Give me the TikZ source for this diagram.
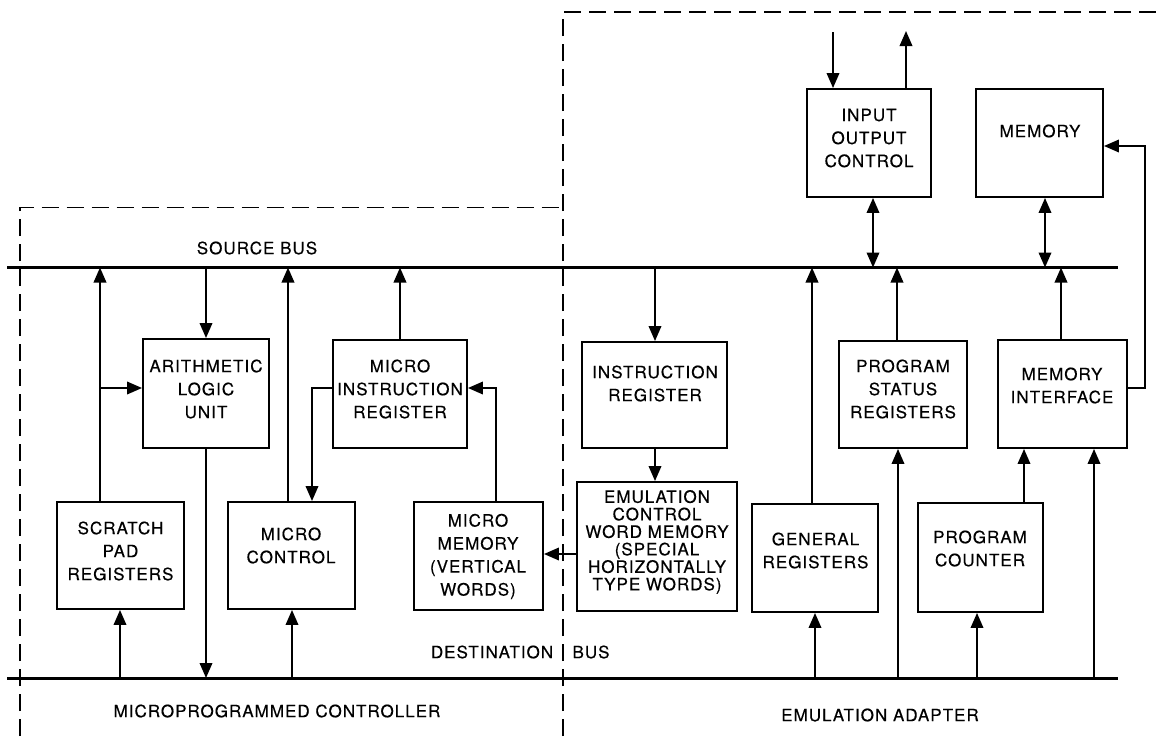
\documentclass[tikz,border=0pt]{standalone}
\usepackage{fontspec}
\setmainfont{TeX Gyre Heros}[LetterSpace=6,FakeBold=0.4]
\usetikzlibrary{arrows.meta,calc}
\begin{document}
\begin{tikzpicture}[x=1pt,y=-1pt,
  box/.style={draw, line width=1.9pt, inner sep=0pt},
  lbl/.style={font=\fontsize{17}{23}\selectfont, align=center, inner sep=0pt},
  tight/.style={font=\fontsize{17}{17.5}\selectfont},
  bus/.style={line width=3pt},
  conn/.style={line width=2pt},
  arr/.style={conn, -{Triangle[length=15pt,width=12.5pt]}},
  barr/.style={conn, {Triangle[length=15pt,width=12.5pt]}-{Triangle[length=15pt,width=12.5pt]}},
  grp/.style={line width=1.7pt, dash pattern=on 17pt off 8pt},
]
\useasboundingbox (0,0) rectangle (1164,736);

% group outlines
\draw[grp] (20,736) -- (20,207.5) -- (563,207.5);
\draw[grp] (563,736) -- (563,12) -- (1164,12);

% buses
\coordinate (sbL) at (7,267.5);
\coordinate (sbR) at (1118,267.5);
\coordinate (dbL) at (7,678);
\coordinate (dbR) at (1118,678);
\draw[bus] (sbL) -- (sbR);
\draw[bus] (dbL) -- (dbR);

% boxes
\node[box, minimum width=126, minimum height=109] (alu) at (206,393.5) {};
\node[box, minimum width=134, minimum height=108] (mir) at (400,394) {};
\node[box, minimum width=145, minimum height=106] (ir)  at (654.5,395) {};
\node[box, minimum width=128, minimum height=107] (psr) at (903,394.5) {};
\node[box, minimum width=129, minimum height=108] (mi)  at (1062.5,394) {};
\node[box, minimum width=124, minimum height=108] (io)  at (869,143) {};
\node[box, minimum width=127, minimum height=108] (mem) at (1039.5,143) {};
\node[box, minimum width=127, minimum height=107] (sp)  at (120.5,555.5) {};
\node[box, minimum width=127, minimum height=107] (mc)  at (291.5,555.5) {};
\node[box, minimum width=129, minimum height=108] (mm)  at (478.5,556) {};
\node[box, minimum width=160, minimum height=129] (ecw) at (657,546.5) {};
\node[box, minimum width=126, minimum height=108] (gr)  at (815,558) {};
\node[box, minimum width=125, minimum height=109] (pc)  at (980.5,557.5) {};

% box texts
\node[lbl] (alut) at (206,389) {ARITHMETIC\\LOGIC\\UNIT};
\node[lbl] (mirt) at (400,389) {MICRO\\INSTRUCTION\\REGISTER};
\node[lbl] (irt)  at (655,383.5) {INSTRUCTION\\REGISTER};
\node[lbl] (psrt) at (903,389) {PROGRAM\\STATUS\\REGISTERS};
\node[lbl] (mit)  at (1062,385.5) {MEMORY\\INTERFACE};
\node[lbl] (iot)  at (869,138) {INPUT\\OUTPUT\\CONTROL};
\node[lbl] (memt) at (1040,131) {MEMORY};
\node[lbl] (spt)  at (120.5,551) {SCRATCH\\PAD\\REGISTERS};
\node[lbl] (mct)  at (291,545.5) {MICRO\\CONTROL};
\node[lbl] (mmt)  at (478,556.5) {MICRO\\MEMORY\\(VERTICAL\\WORDS)};
\node[lbl, tight] (ecwt) at (657,542) {EMULATION\\CONTROL\\WORD MEMORY\\(SPECIAL\\HORIZONTALLY\\TYPE WORDS)};
\node[lbl] (grt)  at (815.5,550.5) {GENERAL\\REGISTERS};
\node[lbl] (pct)  at (980,548.5) {PROGRAM\\COUNTER};

% free labels
\node[lbl] (sbt) at (257,248) {SOURCE BUS};
\node[lbl] (dbt1) at (492,652) {DESTINATION};
\node[lbl] (dbt2) at (591,652) {BUS};
\node[lbl] (mpc) at (277,711) {MICROPROGRAMMED CONTROLLER};
\node[lbl] (ead) at (880,715) {EMULATION ADAPTER};

% connectors: microprogrammed controller
\coordinate (aluin) at ([yshift=5.5]alu.west);
\draw[arr] ([xshift=-20.5]sp.north) -- ([xshift=-20.5]sp.north |- sbL);
\draw[arr] ([xshift=-20.5]sp.north |- aluin) -- (aluin);
\draw[arr] (alu.north |- sbL) -- (alu.north);
\draw[arr] (alu.south) -- (alu.south |- dbL);
\draw[arr] ([xshift=-0.5]sp.south |- dbL) -- ([xshift=-0.5]sp.south);
\draw[arr] ([xshift=-3.5]mc.north) -- ([xshift=-3.5]mc.north |- sbL);
\draw[arr] ([yshift=6]mir.west) -| ([xshift=20.5]mc.north);
\draw[arr] ([xshift=0.5]mc.south |- dbL) -- ([xshift=0.5]mc.south);
\draw[arr] (mir.north) -- (mir.north |- sbL);
\draw[arr] ([xshift=17.5]mm.north) |- ([yshift=6]mir.east);
\draw[arr] ([yshift=-7.5]ecw.west) -- ([yshift=-7.5]ecw.west -| mm.east);

% connectors: emulation adapter
\draw[arr] ([xshift=0.5]ir.north |- sbL) -- ([xshift=0.5]ir.north);
\draw[arr] ([xshift=0.5]ir.south) -- ([xshift=0.5]ir.south |- ecw.north);
\draw[arr] ([xshift=-3]gr.north) -- ([xshift=-3]gr.north |- sbL);
\draw[arr] (gr.south |- dbL) -- (gr.south);
\draw[arr] ([xshift=-5]psr.south |- dbL) -- ([xshift=-5]psr.south);
\draw[arr] ([xshift=-6]psr.north) -- ([xshift=-6]psr.north |- sbL);
\draw[arr] ([xshift=-3.5]pc.south |- dbL) -- ([xshift=-3.5]pc.south);
\draw[arr] ([xshift=43.5]pc.north) -- ([xshift=43.5]pc.north |- mi.south);
\draw[arr] ([xshift=31.5]mi.south |- dbL) -- ([xshift=31.5]mi.south);
\draw[arr] ([xshift=-1.5]mi.north) -- ([xshift=-1.5]mi.north |- sbL);
\draw[arr] ([yshift=6]mi.east) -- ++(17,0) |- ([yshift=-3]mem.east);
\draw[barr] ([xshift=5.5]mem.south) -- ([xshift=5.5]mem.south |- sbL);
\draw[barr] ([xshift=4]io.south) -- ([xshift=4]io.south |- sbL);
\coordinate (ioin) at (833,32);
\coordinate (ioout) at (906,31);
\draw[arr] (ioin) -- (ioin |- io.north);
\draw[arr] (ioout |- io.north) -- (ioout);
\end{tikzpicture}
\end{document}
